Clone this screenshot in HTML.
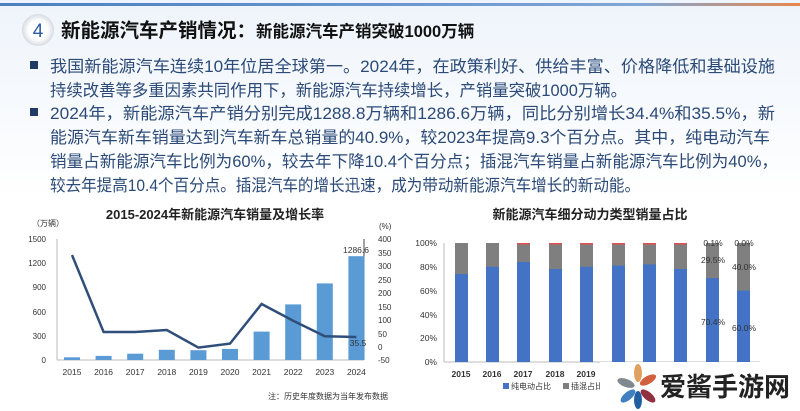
<!DOCTYPE html>
<html><head><meta charset="utf-8"><style>
body{margin:0;width:800px;height:411px;overflow:hidden;background:#fff;font-family:"Liberation Sans","Noto Sans CJK SC",sans-serif;}
</style></head><body>
<svg width="800" height="411" xmlns="http://www.w3.org/2000/svg" style="position:absolute;left:0;top:0;font-family:'Liberation Sans','Noto Sans CJK SC',sans-serif">
<defs>
<linearGradient id="tl" x1="0" x2="1"><stop offset="0" stop-color="#4a7fc0"/><stop offset="0.8" stop-color="#7fa6d6"/><stop offset="1" stop-color="#e8874a"/></linearGradient>
<linearGradient id="bg" x1="0" y1="0" x2="0" y2="1"><stop offset="0" stop-color="#eef4fb"/><stop offset="1" stop-color="#ffffff"/></linearGradient>
<radialGradient id="cg"><stop offset="0.6" stop-color="#fff"/><stop offset="1" stop-color="#d6dbe2"/></radialGradient>
</defs>
<rect x="0" y="0" width="800" height="200" fill="url(#bg)"/>
<rect x="0" y="3" width="800" height="3" fill="url(#tl)"/>
<circle cx="38" cy="30" r="16" fill="url(#cg)"/>
<text x="38" y="37" font-size="19" fill="#2a5aa0" text-anchor="middle">4</text>
<text x="61" y="37" font-size="19.5" font-weight="bold" fill="#111">新能源汽车产销情况：<tspan font-size="16.5">新能源汽车产销突破1000万辆</tspan></text>
<g font-size="16.6" fill="#2b4a78" lengthAdjust="spacingAndGlyphs">
<rect x="30" y="61" width="8" height="8" fill="#1f3b66"/>
<text x="50" y="72" textLength="725" lengthAdjust="spacingAndGlyphs">我国新能源汽车连续10年位居全球第一。2024年，在政策利好、供给丰富、价格降低和基础设施</text>
<text x="50" y="96" textLength="577" lengthAdjust="spacingAndGlyphs">持续改善等多重因素共同作用下，新能源汽车持续增长，产销量突破1000万辆。</text>
<rect x="30" y="108" width="8" height="8" fill="#1f3b66"/>
<text x="50" y="119" textLength="725" lengthAdjust="spacingAndGlyphs">2024年，新能源汽车产销分别完成1288.8万辆和1286.6万辆，同比分别增长34.4%和35.5%，新</text>
<text x="50" y="143" textLength="720" lengthAdjust="spacingAndGlyphs">能源汽车新车销量达到汽车新车总销量的40.9%，较2023年提高9.3个百分点。其中，纯电动汽车</text>
<text x="50" y="167" textLength="728" lengthAdjust="spacingAndGlyphs">销量占新能源汽车比例为60%，较去年下降10.4个百分点；插混汽车销量占新能源汽车比例为40%，</text>
<text x="50" y="191" textLength="590" lengthAdjust="spacingAndGlyphs">较去年提高10.4个百分点。插混汽车的增长迅速，成为带动新能源汽车增长的新动能。</text>
</g>
<!-- left chart -->
<text x="215" y="219" font-size="13" font-weight="bold" fill="#222" text-anchor="middle">2015-2024年新能源汽车销量及增长率</text>
<g font-size="8" fill="#333">
<text x="32" y="226">（万辆）</text>
<text x="379" y="229">(%)</text>
<g text-anchor="end"><text x="46" y="242">1500</text><text x="46" y="266">1200</text><text x="46" y="290">900</text><text x="46" y="315">600</text><text x="46" y="339">300</text><text x="46" y="363">0</text></g>
<g><text x="378" y="242">400</text><text x="378" y="256">350</text><text x="378" y="269">300</text><text x="378" y="283">250</text><text x="378" y="296">200</text><text x="378" y="310">150</text><text x="378" y="323">100</text><text x="378" y="337">50</text><text x="378" y="350">0</text><text x="378" y="363">-50</text></g>
</g>
<line x1="57" y1="239" x2="57" y2="360" stroke="#bbb"/>
<line x1="57" y1="360" x2="364" y2="360" stroke="#bbb"/>
<line x1="364" y1="239" x2="364" y2="360" stroke="#444"/>
<g fill="#5b9bd5">
<rect x="64" y="357.3" width="16" height="2.7"/><rect x="95.6" y="355.9" width="16" height="4.1"/><rect x="127.2" y="353.7" width="16" height="6.3"/><rect x="158.8" y="349.8" width="16" height="10.2"/><rect x="190.4" y="350.2" width="16" height="9.8"/><rect x="222" y="348.9" width="16" height="11.1"/><rect x="253.6" y="331.6" width="16" height="28.4"/><rect x="285.2" y="304.4" width="16" height="55.6"/><rect x="316.8" y="283.4" width="16" height="76.6"/><rect x="348.4" y="256.2" width="16" height="103.8"/>
</g>
<polyline points="72,255 103.6,332 135.2,332 166.8,330 198.4,347.6 230,343.6 261.6,304 293.2,320.7 324.8,336.3 356.4,337" fill="none" stroke="#2f4f7a" stroke-width="2.5"/>
<g font-size="8.5" fill="#333" text-anchor="middle">
<text x="356" y="253">1286.6</text><text x="358" y="346">35.5</text>
<text x="72" y="375">2015</text><text x="103.6" y="375">2016</text><text x="135.2" y="375">2017</text><text x="166.8" y="375">2018</text><text x="198.4" y="375">2019</text><text x="230" y="375">2020</text><text x="261.6" y="375">2021</text><text x="293.2" y="375">2022</text><text x="324.8" y="375">2023</text><text x="356.4" y="375">2024</text>
</g>
<text x="388" y="399" font-size="8" fill="#333" text-anchor="end">注：历史年度数据为当年发布数据</text>
<!-- right chart -->
<text x="590" y="219" font-size="13" font-weight="bold" fill="#222" text-anchor="middle">新能源汽车细分动力类型销量占比</text>
<g font-size="8.5" fill="#333" text-anchor="end">
<text x="437" y="246">100%</text><text x="437" y="270">80%</text><text x="437" y="294">60%</text><text x="437" y="318">40%</text><text x="437" y="341">20%</text><text x="437" y="365">0%</text>
</g>
<line x1="444" y1="243" x2="444" y2="362" stroke="#bbb"/>
<line x1="444" y1="362" x2="760" y2="362" stroke="#bbb"/>
<g>
<rect x="455" y="243" width="13" height="119" fill="#7f7f7f"/><rect x="455" y="274" width="13" height="88" fill="#4472c4"/>
<rect x="486" y="243" width="13" height="119" fill="#7f7f7f"/><rect x="486" y="266.8" width="13" height="95.2" fill="#4472c4"/>
<rect x="517" y="243" width="13" height="119" fill="#7f7f7f"/><rect x="517" y="262" width="13" height="100" fill="#4472c4"/><rect x="517" y="243" width="13" height="1.5" fill="#e05050"/>
<rect x="549" y="243" width="13" height="119" fill="#7f7f7f"/><rect x="549" y="269" width="13" height="93" fill="#4472c4"/><rect x="549" y="243" width="13" height="1.5" fill="#e05050"/>
<rect x="580" y="243" width="13" height="119" fill="#7f7f7f"/><rect x="580" y="266.8" width="13" height="95.2" fill="#4472c4"/><rect x="580" y="243" width="13" height="1.5" fill="#e05050"/>
<rect x="612" y="243" width="13" height="119" fill="#7f7f7f"/><rect x="612" y="265.6" width="13" height="96.4" fill="#4472c4"/><rect x="612" y="243" width="13" height="1.5" fill="#e05050"/>
<rect x="643" y="243" width="13" height="119" fill="#7f7f7f"/><rect x="643" y="264.4" width="13" height="97.6" fill="#4472c4"/><rect x="643" y="243" width="13" height="1.5" fill="#e05050"/>
<rect x="674" y="243" width="13" height="119" fill="#7f7f7f"/><rect x="674" y="269" width="13" height="93" fill="#4472c4"/><rect x="674" y="243" width="13" height="1.5" fill="#e05050"/>
<rect x="706" y="243" width="13" height="119" fill="#7f7f7f"/><rect x="706" y="278.2" width="13" height="83.8" fill="#4472c4"/>
<rect x="737" y="243" width="13" height="119" fill="#7f7f7f"/><rect x="737" y="290.6" width="13" height="71.4" fill="#4472c4"/>
</g>
<g font-size="8.5" fill="#333" text-anchor="middle">
<text x="713" y="246">0.1%</text><text x="744" y="246">0.0%</text>
<text x="713" y="263">29.5%</text><text x="744" y="270">40.0%</text>
<text x="713" y="325">70.4%</text><text x="744" y="331">60.0%</text>
</g>
<g font-size="8.5" font-weight="bold" fill="#333" text-anchor="middle">
<text x="461" y="377">2015</text><text x="492" y="377">2016</text><text x="523" y="377">2017</text><text x="555" y="377">2018</text><text x="586" y="377">2019</text>
</g>
<rect x="503" y="383" width="6" height="6" fill="#4472c4"/><text x="511" y="389" font-size="8" fill="#333">纯电动占比</text>
<rect x="563" y="383" width="6" height="6" fill="#7f7f7f"/><text x="571" y="389" font-size="8" fill="#333">插混占比</text>
<!-- watermark logo -->
<rect x="600" y="362" width="200" height="49" fill="#fff"/>
<g transform="translate(638,387)">
<ellipse cx="0" cy="-14" rx="4" ry="9" fill="#e0a060"/>
<ellipse cx="10" cy="-7" rx="4" ry="9" fill="#d06040" transform="rotate(60 10 -7)"/>
<ellipse cx="-12" cy="-4" rx="4" ry="9" fill="#808890" transform="rotate(-70 -12 -4)"/>
<ellipse cx="-10" cy="9" rx="4" ry="9" fill="#4080c0" transform="rotate(-130 -10 9)"/>
<ellipse cx="0" cy="13" rx="4" ry="9" fill="#2060a0"/>
<ellipse cx="10" cy="9" rx="4" ry="9" fill="#903040" transform="rotate(130 10 9)"/>
</g>
<text x="660" y="396" font-size="26" font-weight="bold" fill="#222">爱酱手游网</text>
</svg>
</body></html>
